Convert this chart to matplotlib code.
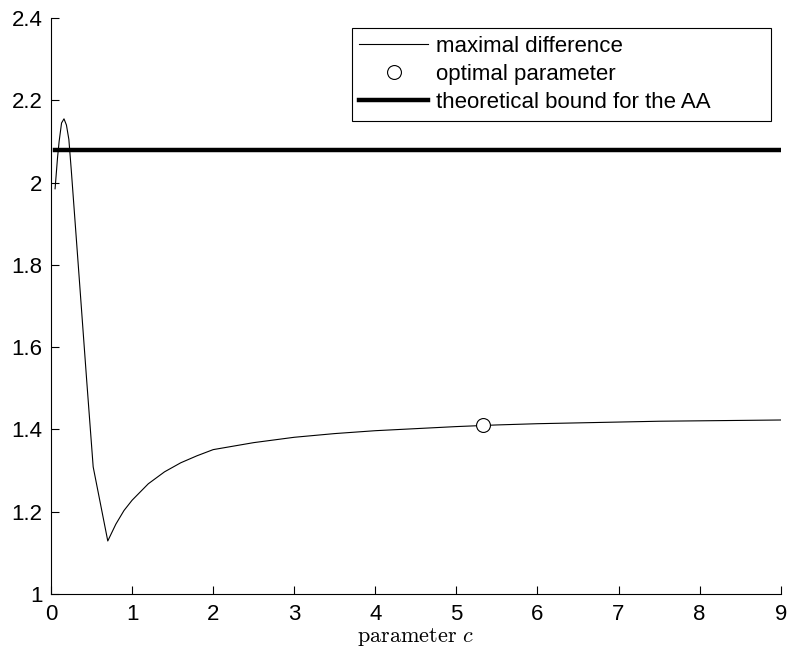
import matplotlib
matplotlib.use('Agg')
import matplotlib.pyplot as plt

plt.rcParams['font.family'] = ['Liberation Sans', 'DejaVu Sans']
plt.rcParams['mathtext.fontset'] = 'cm'

# maximal difference as a function of the parameter c
c_vals = [0.05, 0.08, 0.10, 0.13, 0.16, 0.19, 0.22, 0.25, 0.30, 0.35, 0.40,
          0.44, 0.52, 0.60, 0.70, 0.80, 0.90, 1.00, 1.20, 1.40, 1.60, 1.80,
          2.00, 2.50, 3.00, 3.50, 4.00, 4.50, 5.00, 5.50, 6.00, 6.50, 7.00,
          7.50, 8.00, 8.50, 9.00]
max_diff = [1.985, 2.060, 2.100, 2.145, 2.155, 2.140, 2.105, 2.030, 1.896,
            1.762, 1.627, 1.519, 1.309, 1.229, 1.129, 1.170, 1.203, 1.228,
            1.268, 1.297, 1.319, 1.336, 1.351, 1.368, 1.381, 1.390, 1.397,
            1.402, 1.407, 1.411, 1.414, 1.416, 1.418, 1.420, 1.421, 1.422,
            1.423]

c_opt = 5.33
diff_opt = 1.410

bound = 2.079
bound_c = [0.05, 9.0]

fig = plt.figure(figsize=(7.91, 6.49), dpi=100)
ax = fig.add_axes([0.0645, 0.0847, 0.9225, 0.8875])

ax.plot(c_vals, max_diff, color='black', linewidth=0.8, label='maximal difference')
ax.plot([c_opt], [diff_opt], linestyle='none', marker='o', markersize=10,
        markerfacecolor='white', markeredgecolor='black', markeredgewidth=0.8,
        label='optimal parameter')
ax.plot(bound_c, [bound, bound], color='black', linewidth=3.2,
        label='theoretical bound for the AA')

ax.set_xlim(0, 9)
ax.set_ylim(1, 2.4)
ax.set_xticks(range(0, 10))
ax.set_yticks([1, 1.2, 1.4, 1.6, 1.8, 2, 2.2, 2.4])
ax.set_yticklabels(['1', '1.2', '1.4', '1.6', '1.8', '2', '2.2', '2.4'])
ax.tick_params(direction='in', length=6, width=0.8, labelsize=16)
ax.tick_params(axis='x', pad=7)
ax.tick_params(axis='y', pad=6)
ax.spines['top'].set_visible(False)
ax.spines['right'].set_visible(False)
for s in ('left', 'bottom'):
    ax.spines[s].set_linewidth(0.8)

ax.set_xlabel(r'$\mathrm{parameter}\ c$', fontsize=16, labelpad=1)

# legend box spans a fixed width in axes coordinates
leg = ax.legend(loc='upper left', bbox_to_anchor=(0.412, 0.0, 0.574, 0.983),
                mode='expand', fontsize=16,
                handlelength=3.1, handletextpad=0.36, labelspacing=0.32,
                borderpad=0.35, borderaxespad=0, fancybox=False, framealpha=1,
                edgecolor='black')
leg.get_frame().set_linewidth(0.8)

fig.savefig('out.png', dpi=100)
